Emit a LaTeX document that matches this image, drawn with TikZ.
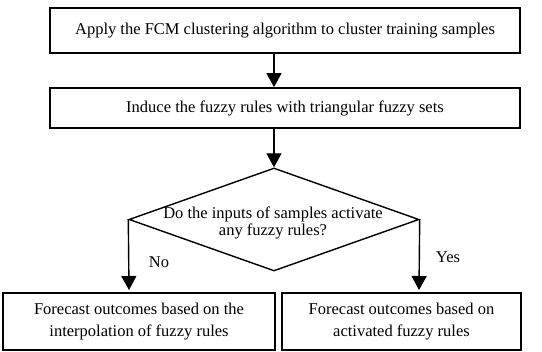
\documentclass[tikz,border=0pt]{standalone}
\usepackage{fontspec}
\setmainfont{Liberation Serif}
\usetikzlibrary{shapes.geometric,arrows.meta}
\begin{document}
\begin{tikzpicture}[x=1pt,y=-1pt,
  box/.style={draw,line width=1.7pt,rectangle,inner sep=0pt,align=center,font=\fontsize{16.5}{21.5}\selectfont},
  arr/.style={line width=1.4pt,-{Triangle[width=15pt,length=14pt]}},
  lbl/.style={font=\fontsize{16.5}{18}\selectfont,inner sep=0pt}]
\useasboundingbox (0,0) rectangle (542,352);
\node[box,minimum width=470pt,minimum height=45pt] (b1) at (285,30.5) {Apply the FCM clustering algorithm to cluster training samples};
\node[box,minimum width=470pt,minimum height=40pt] (b2) at (285,108) {Induce the fuzzy rules with triangular fuzzy sets};
\node[draw,diamond,line width=1.4pt,inner sep=0pt,minimum width=290pt,minimum height=103pt,aspect=2.816] (d) at (274,219.5) {};
\node[lbl,align=center,font=\fontsize{16.5}{16.5}\selectfont] (dt) at (273,223) {Do the inputs of samples activate\\any fuzzy rules?};
\node[box,minimum width=272pt,minimum height=57pt] (l) at (139,321.5) {Forecast outcomes based on the\\interpolation of fuzzy rules};
\node[box,minimum width=239pt,minimum height=57pt] (r) at (401.5,321.5) {Forecast outcomes based on\\activated fuzzy rules};
\coordinate (le) at (129,290);
\coordinate (re) at (419,290);
\draw[arr] (b1.south -| 274,0) -- (b2.north -| 274,0);
\draw[arr] (b2.south -| 274,0) -- (d.north);
\draw[arr] (d.west) -- (le);
\draw[arr] (d.east) -- (re);
\node[lbl] (no) at (159,262) {No};
\node[lbl] (yes) at (448,257) {Yes};
\end{tikzpicture}
\end{document}
